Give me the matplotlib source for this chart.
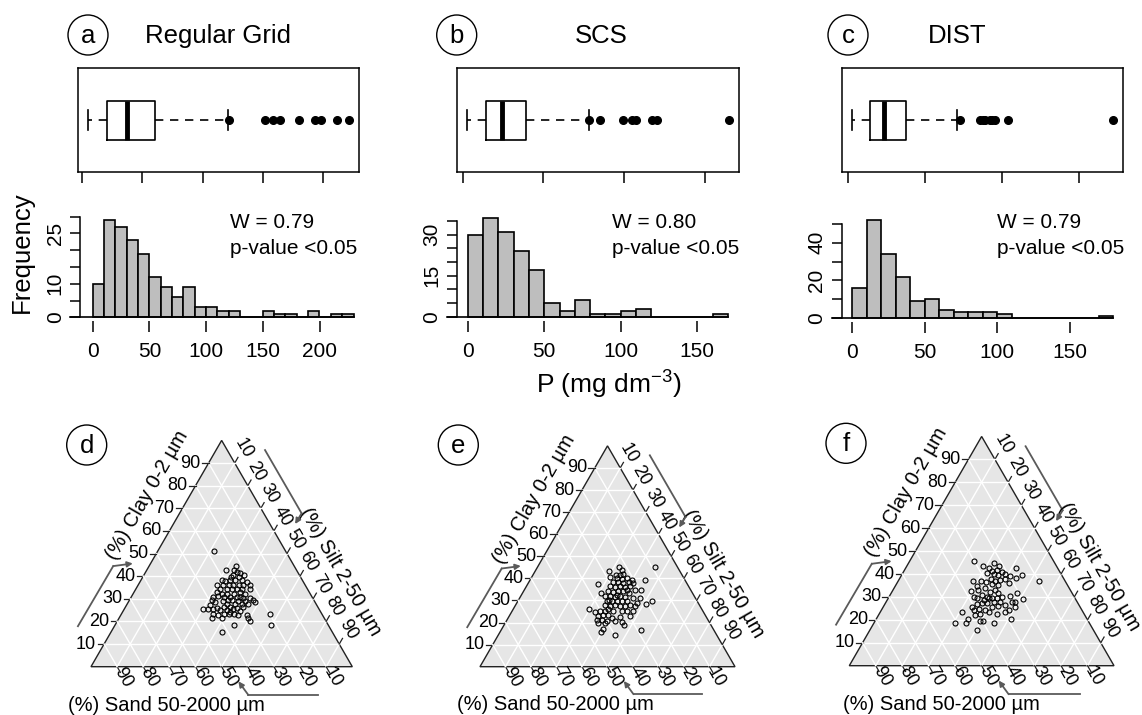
import numpy as np
import matplotlib.pyplot as plt
from matplotlib.patches import Circle, Polygon

plt.rcParams['font.family'] = ['Liberation Sans', 'DejaVu Sans']

FW, FH = 1142, 715

# ---- histogram counts, 10 mg dm-3 bins starting at 0 ----
counts_a = [10, 29, 27, 23, 19, 12, 9, 6, 9, 3, 3, 2, 2, 0, 0, 2, 1, 1, 0, 2, 0, 1, 1]
counts_b = [30, 36, 31, 24, 17, 5, 2, 6, 1, 1, 2, 3, 0, 0, 0, 0, 1]
counts_c = [16, 52, 34, 22, 9, 10, 4, 3, 3, 3, 2, 0, 0, 0, 0, 0, 0, 1]

# ---- boxplot stats: whisker low, q1, median, q3, whisker high ----
stats_a = [5.2, 21, 37, 60.7, 121]
out_a = [122, 152, 158, 164, 180, 193, 198, 211, 221]
stats_b = [2.9, 14.1, 24.4, 39.1, 78]
out_b = [78.5, 85.1, 99.2, 104.8, 107.3, 117.2, 120.3, 164.8]
stats_c = [2.8, 14.5, 23.2, 37.7, 70.9]
out_c = [72.6, 85.6, 88.0, 89.3, 92.5, 94.0, 95.8, 104.4, 172.3]

titles = ["Regular Grid", "SCS", "DIST"]
shapiro_w = ["0.79", "0.80", "0.79"]

# ---- texture (clay %, silt %) of the samples ----
clay_d = [51.3, 42.6, 44.4, 42.6, 41.9, 40.7, 41.2, 40.4, 39.7, 39.7, 38.2, 37.8, 38.2, 38.2, 38.2,
          37.5, 36.3, 36.0, 36.3, 36.0, 36.3, 36.0, 36.0, 34.5, 34.5, 34.3, 34.3, 34.5, 34.3, 32.8,
          32.3, 32.3, 32.3, 32.8, 32.3, 30.9, 31.2, 30.9, 30.9, 30.9, 30.4, 30.4, 29.4, 29.4, 29.0,
          29.0, 29.4, 28.4, 27.9, 27.9, 27.5, 27.9, 26.5, 26.5, 26.0, 26.5, 25.4, 25.4, 25.4, 26.0,
          25.0, 25.0, 25.4, 24.5, 23.5, 22.8, 23.1, 23.5, 23.1, 22.8, 21.6, 21.6, 21.3, 20.1, 23.4,
          18.4, 18.4, 15.4, 24.2, 22.8, 27.2, 28.7, 29.0, 30.9, 29.4]
silt_d = [21.5, 30.3, 33.3, 33.6, 34.9, 33.9, 36.4, 38.5, 33.7, 36.6, 30.9, 32.4, 34.1, 36.0, 38.6,
          40.9, 30.0, 32.7, 34.5, 36.5, 38.3, 40.3, 42.9, 32.2, 34.7, 36.7, 38.7, 40.5, 43.8, 31.7,
          33.9, 35.8, 38.4, 40.6, 42.8, 31.4, 33.1, 35.3, 37.8, 40.4, 43.1, 45.7, 31.5, 39.1, 41.9,
          44.4, 47.4, 48.6, 38.0, 41.2, 44.0, 46.3, 37.5, 40.0, 42.8, 45.1, 30.3, 32.2, 33.9, 35.1,
          36.9, 39.4, 41.8, 44.8, 35.1, 37.3, 39.2, 40.9, 43.0, 48.2, 35.4, 39.2, 49.6, 50.9, 56.8,
          59.6, 45.7, 42.6, 41.1, 45.0, 32.0, 33.2, 36.2, 41.6, 37.9]

clay_e = [45.1, 45.0, 43.9, 43.2, 41.7, 41.7, 42.0, 40.6, 40.1, 39.8, 40.1, 39.4, 39.1, 37.4, 38.3,
          38.3, 37.9, 38.3, 37.9, 36.4, 35.9, 36.4, 35.9, 36.4, 34.6, 34.6, 33.3, 34.1, 33.8, 34.1,
          34.1, 33.3, 31.8, 31.8, 31.4, 31.8, 31.4, 31.1, 31.1, 29.9, 29.6, 29.9, 29.6, 29.6, 29.6,
          28.5, 27.8, 27.3, 27.8, 27.3, 27.3, 27.8, 25.3, 26.2, 24.7, 25.3, 25.3, 25.3, 25.3, 25.0,
          22.8, 23.2, 23.5, 22.8, 21.3, 21.3, 22.0, 22.3, 20.8, 20.2, 19.8, 19.8, 19.0, 17.2, 15.7,
          16.4, 14.5, 30.3, 32.3, 34.9, 27.3, 28.8, 26.2, 20.5]
silt_e = [46.1, 32.1, 33.6, 29.0, 32.5, 34.1, 35.2, 30.7, 33.6, 35.6, 37.5, 39.8, 45.2, 27.7, 33.2,
          35.1, 37.3, 39.1, 41.2, 32.8, 35.0, 36.7, 38.9, 40.6, 43.5, 45.7, 30.7, 33.3, 35.4, 37.2,
          39.2, 41.6, 33.1, 35.1, 37.2, 39.0, 41.1, 44.6, 47.2, 34.8, 36.8, 38.7, 40.7, 42.7, 52.5,
          50.9, 35.1, 37.4, 39.0, 41.3, 43.2, 44.9, 47.5, 29.6, 32.8, 34.4, 36.4, 39.7, 42.9, 45.0,
          35.0, 36.7, 38.6, 47.4, 35.1, 37.1, 40.6, 43.8, 42.5, 45.7, 36.5, 39.1, 47.0, 39.7, 39.5,
          54.8, 45.7, 35.6, 37.5, 40.1, 47.2, 47.0, 37.2, 39.5]

clay_f = [45.7, 43.6, 44.7, 43.5, 42.5, 42.8, 41.3, 41.8, 41.0, 40.3, 39.9, 39.6, 39.9, 39.3, 38.4,
          39.6, 37.0, 37.0, 37.0, 36.4, 37.8, 37.0, 37.4, 37.8, 35.9, 34.9, 35.5, 35.2, 32.6, 33.0,
          33.8, 32.3, 33.0, 31.6, 31.6, 30.6, 29.0, 30.1, 30.9, 30.1, 29.7, 29.4, 30.1, 27.9, 27.9,
          25.8, 26.8, 27.2, 27.2, 25.8, 26.2, 26.5, 25.8, 24.3, 24.3, 24.7, 24.3, 23.6, 22.1, 22.4,
          22.6, 23.3, 20.4, 20.4, 18.5, 18.5, 19.5, 19.5, 18.5, 15.6, 29.4, 28.7, 29.4, 27.9, 23.6,
          27.9]
silt_f = [24.4, 28.6, 32.5, 34.9, 31.7, 41.5, 33.2, 34.8, 37.1, 31.8, 34.6, 36.5, 39.0, 41.2, 43.8,
          45.6, 53.3, 28.4, 31.3, 33.4, 34.7, 36.6, 38.3, 40.0, 42.2, 30.8, 36.1, 38.7, 29.7, 32.3,
          34.4, 37.1, 38.6, 40.5, 47.5, 45.5, 51.3, 31.9, 34.6, 36.9, 39.0, 41.0, 42.6, 47.5, 48.7,
          33.4, 34.8, 36.4, 38.3, 40.9, 43.2, 45.7, 49.7, 48.0, 34.8, 36.5, 39.2, 30.7, 36.3, 38.2,
          44.4, 47.0, 50.8, 34.6, 30.8, 34.8, 39.7, 40.6, 45.6, 40.6, 37.9, 36.4, 33.5, 40.6, 40.8,
          43.1]

fig = plt.figure(figsize=(FW / 100, FH / 100), dpi=100)


def px_axes(left, top, right, bottom):
    return fig.add_axes([left / FW, 1 - bottom / FH, (right - left) / FW, (bottom - top) / FH])


def ftext(x, y, s, **kw):
    fig.text(x / FW, 1 - y / FH, s, **kw)


def letter_circle(x, y, s):
    c = Circle((x / 100, (FH - y) / 100), 0.2, transform=fig.dpi_scale_trans,
               fill=False, ec='black', lw=1.0)
    fig.add_artist(c)
    ftext(x, y + 1, s, fontsize=18.5, ha='center', va='center')


# ---------------- boxplots ----------------
def boxpanel(left, right, stats, out, ticks):
    ax = px_axes(left, 68, right, 172)
    lo = min(stats[0], min(out))
    hi = max(stats[4], max(out))
    pad = 0.04 * (hi - lo)
    bs = dict(whislo=stats[0], q1=stats[1], med=stats[2], q3=stats[3], whishi=stats[4], fliers=out)
    ax.bxp([bs], orientation='horizontal', positions=[1], widths=0.375,
           boxprops=dict(color='black', lw=1.2),
           medianprops=dict(color='black', lw=3.5, solid_capstyle='butt'),
           whiskerprops=dict(color='black', lw=1.2, linestyle=(0, (5, 4))),
           capprops=dict(color='black', lw=1.2),
           flierprops=dict(marker='o', mfc='black', mec='black', ms=5.5))
    ax.set_xlim(lo - pad, hi + pad)
    ax.set_ylim(0.5, 1.5)
    ax.set_yticks([])
    ax.set_xticks(ticks)
    ax.set_xticklabels([])
    ax.tick_params(axis='x', direction='out', length=8, width=1.1)
    for sp in ax.spines.values():
        sp.set_linewidth(1.1)


boxpanel(78, 359, stats_a, out_a, [0, 50, 100, 150, 200])
boxpanel(457, 739, stats_b, out_b, [0, 50, 100, 150])
boxpanel(841.7, 1123.3, stats_c, out_c, [0, 50, 100, 150])


# ---------------- histograms ----------------
def histpanel(counts, x0, xs, y0, ys, left, right, bottom, top, xt, yt, ylabs):
    ax = px_axes(left, top, right, bottom)
    edges = np.arange(len(counts)) * 10
    ax.bar(edges, counts, width=10, align='edge', color='#bebebe', edgecolor='black', lw=1.2)
    ax.set_xlim((left - x0) / xs, (right - x0) / xs)
    ax.set_ylim((y0 - bottom) / ys, (y0 - top) / ys)
    ax.spines[['top', 'right', 'bottom']].set_visible(False)
    ax.spines['left'].set_bounds(yt[0], yt[-1])
    ax.spines['left'].set_linewidth(1.1)
    ax.set_xticks(xt)
    ax.set_xticklabels([str(v) for v in xt], fontsize=15)
    ax.set_yticks(yt)
    ax.set_yticklabels([str(v) if v in ylabs else '' for v in yt], fontsize=15,
                       rotation=90, va='center')
    ax.tick_params(axis='x', direction='out', length=8, width=1.1, pad=7)
    ax.tick_params(axis='y', direction='out', length=7, width=1.1, pad=4)
    # baseline from the y axis tick to the last bar
    ax.plot([(left - 10 - x0) / xs, len(counts) * 10], [0, 0], color='black', lw=1.2, clip_on=False)
    return ax


histpanel(counts_a, 92.7, 1.134, 317.3, 3.353, 80, 360, 321.3, 216,
          [0, 50, 100, 150, 200], [0, 5, 10, 15, 20, 25, 30], [0, 10, 25])
histpanel(counts_b, 467.7, 1.531, 316.7, 2.733, 456.7, 738, 320.7, 216.7,
          [0, 50, 100, 150], [0, 5, 10, 15, 20, 25, 30, 35], [0, 15, 30])
histpanel(counts_c, 852, 1.451, 318, 1.883, 841.7, 1123, 321.7, 217.8,
          [0, 50, 100, 150], [0, 10, 20, 30, 40, 50], [0, 20, 40])

# titles, panel letters, test results
for tx, lx, wx, ttl, w, L in zip([218, 601.7, 956.7], [88, 456.7, 848],
                                 [230, 612.3, 996.7], titles, shapiro_w, "abc"):
    ftext(tx, 36, ttl, fontsize=18.5, ha='center', va='center')
    letter_circle(lx, 35, L)
    ftext(wx, 222, "W = " + w, fontsize=15, ha='left', va='center')
    ftext(wx, 248, "p-value <0.05", fontsize=15, ha='left', va='center')

ftext(22, 252, "Frequency", fontsize=18.5, rotation=90, ha='center', va='center')
ftext(609, 385, "P (mg dm$\\mathregular{^{-3}}$)", fontsize=19, ha='center', va='center')

# ---------------- texture triangles ----------------
H = np.sqrt(3) / 2


def tern_xy(clay, silt):
    clay = np.asarray(clay)
    silt = np.asarray(silt)
    return silt + clay / 2, clay * H


def ternary(blx, bly, width, clay, silt, letter, lpos, sand_x, silt_lab):
    s = width / 100.0
    x0, x1, y0, y1 = -35, 135, -30, 112
    ax = px_axes(blx + x0 * s, bly - y1 * s, blx + x1 * s, bly - y0 * s)
    ax.set_xlim(x0, x1)
    ax.set_ylim(y0, y1)
    ax.axis('off')
    ax.add_patch(Polygon([(0, 0), (100, 0), (50, 100 * H)], closed=True,
                         fc='#e6e6e6', ec='#222222', lw=1.0, zorder=1))
    for k in range(10, 100, 10):
        ax.plot([k / 2, 100 - k / 2], [k * H, k * H], color='white', lw=1.0, zorder=2)
        ax.plot([k, k + (100 - k) / 2], [0, (100 - k) * H], color='white', lw=1.0, zorder=2)
        ax.plot([100 - k, (100 - k) / 2], [0, (100 - k) * H], color='white', lw=1.0, zorder=2)
        # clay ticks (left)
        px, py = k / 2, k * H
        ax.plot([px, px - 2.5], [py, py], color='#222222', lw=0.9, clip_on=False)
        ax.text(px - 3, py, str(k), fontsize=13, ha='right', va='center')
        # silt ticks (right)
        px, py = 50 + k / 2, (100 - k) * H
        ax.plot([px, px + 1.25], [py, py + 2.5 * H], color='#222222', lw=0.9, clip_on=False)
        ax.text(px + 3.2, py + 6.4 * H, str(k), fontsize=13, ha='center', va='center',
                rotation=-60, rotation_mode='anchor')
        # sand ticks (bottom)
        sand = 100 - k
        px, py = 100 - sand, 0
        ax.plot([px, px + 1.25], [py, py - 2.5 * H], color='#222222', lw=0.9, clip_on=False)
        ax.text(px + 2.4, py - 4.8 * H, str(sand), fontsize=13, ha='center', va='center',
                rotation=-60, rotation_mode='anchor')
    tx, ty = tern_xy(clay, silt)
    ax.plot(tx, ty, 'o', mfc='none', mec='black', ms=3.6, mew=0.8, zorder=3)

    ax.text(21.4, 65.6, "(%) Clay 0-2 µm", fontsize=14.5, rotation=60,
            ha='center', va='center', rotation_mode='anchor')
    ax.text(silt_lab[0], silt_lab[1], "(%) Silt 2-50 µm", fontsize=14.5, rotation=-60,
            ha='center', va='center', rotation_mode='anchor')
    ax.text(sand_x, -14.7, "(%) Sand 50-2000 µm", fontsize=14.5, ha='left', va='center')

    ac = '#5a5a5a'
    ap = dict(arrowstyle='-|>', color=ac, lw=1.3, mutation_scale=8, shrinkA=0, shrinkB=0)
    ax.plot([-5, 8.5], [15.5, 38.5], color=ac, lw=1.3, clip_on=False)
    ax.annotate('', xy=(16, 39.5), xytext=(8.5, 38.5), arrowprops=ap, annotation_clip=False)
    ax.plot([66.6, 80.6], [82.9, 58.7], color=ac, lw=1.3, clip_on=False)
    ax.annotate('', xy=(78.1, 54.6), xytext=(80.6, 58.7), arrowprops=ap, annotation_clip=False)
    ax.plot([87, 60.2], [-10.8, -10.8], color=ac, lw=1.3, clip_on=False)
    ax.annotate('', xy=(56.4, -5.6), xytext=(60.2, -10.8), arrowprops=ap, annotation_clip=False)

    letter_circle(lpos[0], lpos[1], letter)


ternary(91, 666.7, 261.3, clay_d, silt_d, 'd', (86.7, 445), -8.8, (95.5, 36.5))
ternary(480, 666.7, 255, clay_e, silt_e, 'e', (458.3, 445), -9.0, (95.5, 36.5))
ternary(849.3, 665.7, 264.7, clay_f, silt_f, 'f', (846, 443.3), -2.4, (94.5, 37.5))

fig.savefig("out.png", dpi=100)
